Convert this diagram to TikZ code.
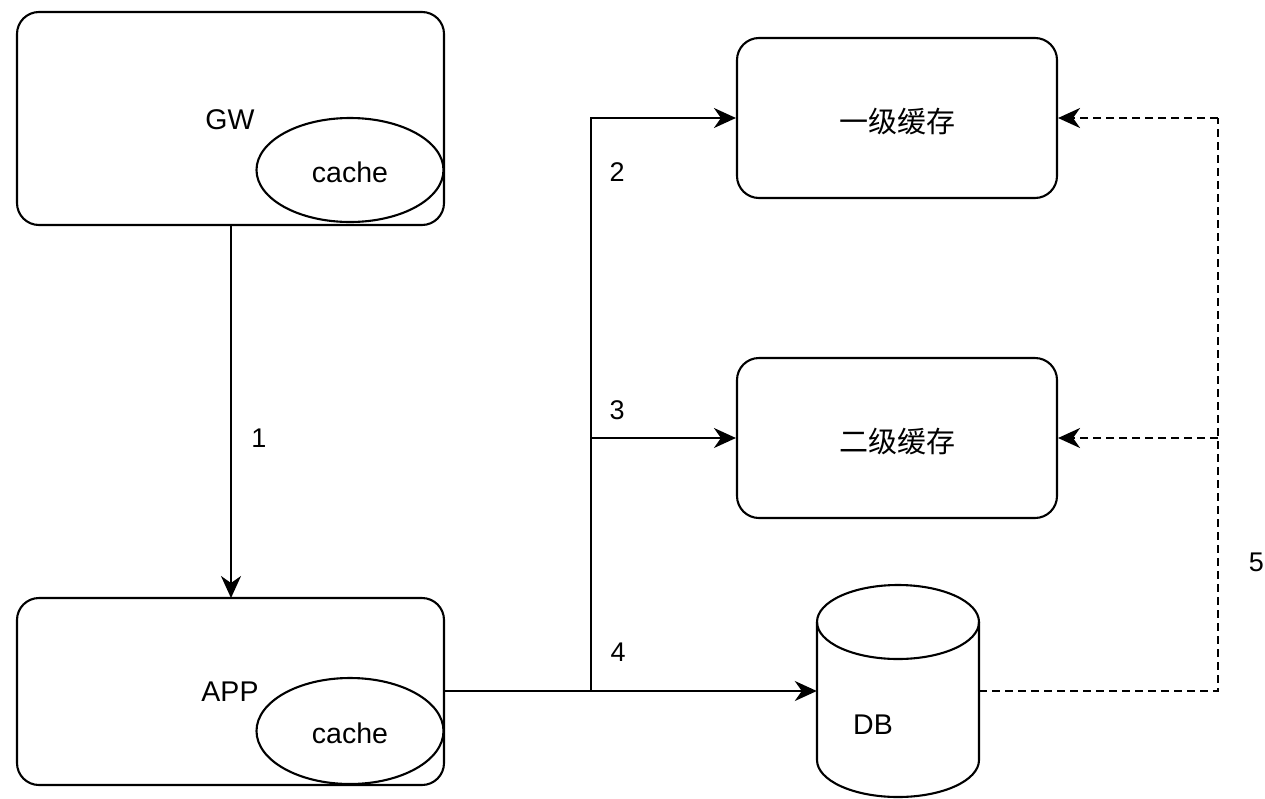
\documentclass[tikz,border=0pt]{standalone}
\usepackage{fontspec}
\setmainfont{Liberation Sans}
\newfontfamily\cjk{Noto Sans CJK SC}
\usetikzlibrary{shapes.geometric,arrows.meta}
\begin{document}
\begin{tikzpicture}[x=1pt,y=-1pt,
  every node/.style={font=\fontsize{28.5}{32}\selectfont, inner sep=0pt},
  rbox/.style={draw, line width=2.1pt, rounded corners=22pt},
  cacheell/.style={draw, ellipse, line width=2.1pt, fill=white, minimum width=187pt, minimum height=104pt},
  arr/.style={line width=2.2pt, -{Stealth[length=22pt,width=20pt,inset=7pt]}},
  dline/.style={line width=2.2pt, dash pattern=on 8pt off 5pt},
  dasharr/.style={dline, -{Stealth[length=22pt,width=20pt,inset=7pt]}},
  lbl/.style={font=\fontsize{27}{30}\selectfont}]
\useasboundingbox (0,0) rectangle (1265,798);
\fill[white] (0,0) rectangle (1265,798);

% GW
\node[rbox, minimum width=427pt, minimum height=213pt] (gw) at (230.5,118.5) {};
\node (gwt) at (230,120) {GW};
\node[cacheell] (gwc) at (350,170) {};
\node (gwct) at (350,172) {cache};

% APP
\node[rbox, minimum width=427pt, minimum height=187pt] (app) at (230.5,691.5) {};
\node (appt) at (230,692) {APP};
\node[cacheell, minimum height=106pt] (appc) at (350,731) {};
\node (appct) at (350,733) {cache};

% caches
\node[rbox, minimum width=320pt, minimum height=160pt] (l1) at (897,118) {};
\node[font=\cjk\fontsize{29}{32}\selectfont] (l1t) at (897,122) {一级缓存};
\node[rbox, minimum width=320pt, minimum height=160pt] (l2) at (897,438) {};
\node[font=\cjk\fontsize{29}{32}\selectfont] (l2t) at (897,442) {二级缓存};

% DB cylinder
\node[minimum width=162pt, minimum height=212pt] (db) at (898,691) {};
\draw[line width=2.1pt] (817,622) -- (817,760) arc[start angle=180, end angle=360, x radius=81pt, y radius=37pt] -- (979,622);
\draw[line width=2.1pt] (898,622) ellipse[x radius=81pt, y radius=37pt];
\node (dbt) at (873,725) {DB};

% connectors
\coordinate (a1) at (231,225);
\coordinate (a2) at (231,598);
\draw[arr] (a1) -- (a2);
\node[lbl] (n1) at (259,438) {1};

\coordinate (j4) at (591,691);
\coordinate (j3) at (591,438);
\draw[arr] (app.east |- j4) -- (db.west);
\draw[arr] (j4) |- (l1.west);
\draw[arr] (j3) -- (l2.west);
\node[lbl] (n2) at (617,172) {2};
\node[lbl] (n3) at (617,410) {3};
\node[lbl] (n4) at (618,652) {4};

\coordinate (r) at (1218,691);
\draw[dline] (db.east) -- (r) -- (r |- l1.east);
\draw[dasharr] (r |- l1.east) -- (l1.east);
\draw[dasharr] (r |- l2.east) -- (l2.east);
\node[lbl, anchor=east] (n5) at (1264,562) {5};
\end{tikzpicture}
\end{document}
